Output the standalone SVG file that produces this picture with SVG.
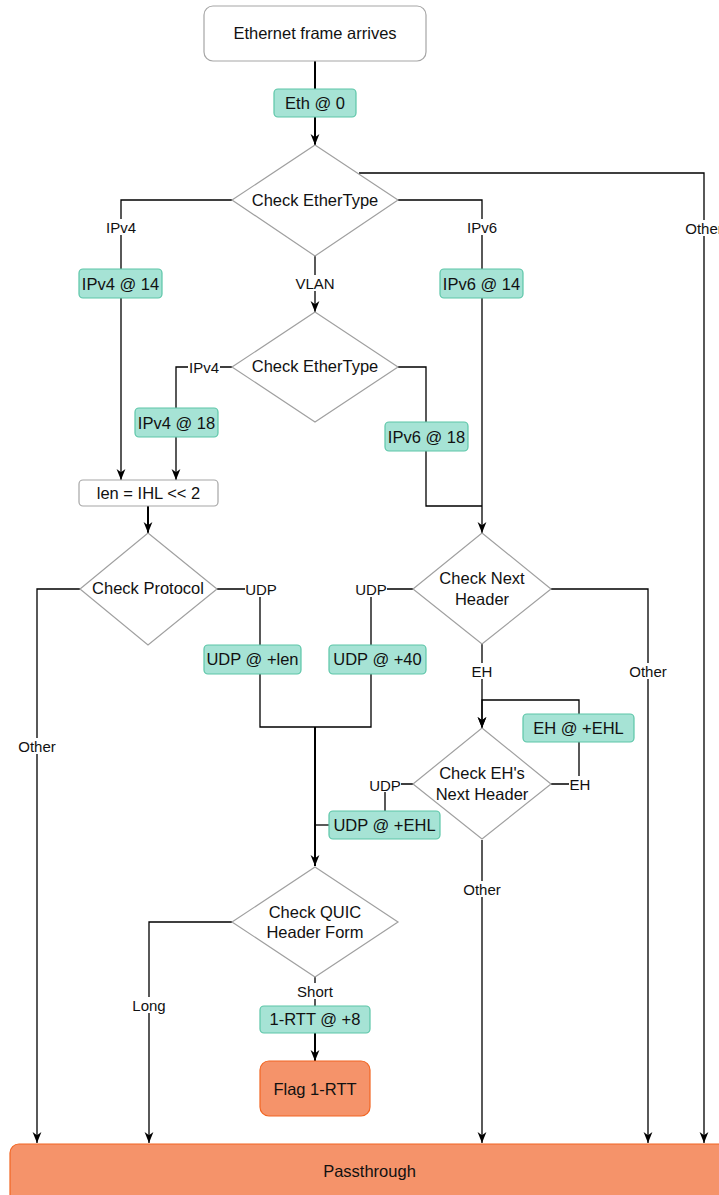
<svg xmlns="http://www.w3.org/2000/svg" width="719" height="1195" viewBox="0 0 719 1195">
  <defs>
    <marker id="arrow" viewBox="0 0 10 10" refX="10" refY="5" markerWidth="11" markerHeight="11" markerUnits="userSpaceOnUse" orient="auto">
      <path d="M0,1 L10,5 L0,9 L3,5 Z" fill="#000"/>
    </marker>
    <style>
      text { font-family: "Liberation Sans", Arial, sans-serif; fill: #111; text-anchor: middle; dominant-baseline: central; }
      .node { font-size: 16.5px; }
      .lbl { font-size: 15px; }
      .plain { fill: #fff; stroke: #a6a6a6; stroke-width: 1.2; }
      .decision { fill: #fff; stroke: #a0a0a0; stroke-width: 1.2; }
      .offset { fill: #a6e3d5; stroke: #5cc6a8; stroke-width: 1.2; }
      .terminal { fill: #f5936a; stroke: #f26522; stroke-width: 1.2; }
      .edge { fill: none; stroke: #000; stroke-width: 1.3; }
      .edge.main { stroke-width: 2; }
      .arr { marker-end: url(#arrow); }
      .lbg { fill: #fff; }
    </style>
  </defs>

  <!-- connectors -->
  <g id="connectors">
    <path class="edge main" d="M315,61 V89"/>
    <path class="edge main arr" d="M315,117 V145"/>
    <path class="edge arr" d="M359,173 H704 V1143"/>
    <path class="edge" d="M232,200 H121 V269"/>
    <path class="edge arr" d="M121,298 V480"/>
    <path class="edge" d="M398,200 H482 V269"/>
    <path class="edge arr" d="M482,298 V533"/>
    <path class="edge arr" d="M315,256 V312"/>
    <path class="edge" d="M232,367 H176 V408"/>
    <path class="edge arr" d="M176,437 V480"/>
    <path class="edge" d="M398,367 H426 V422"/>
    <path class="edge" d="M426,451 V506 H482"/>
    <path class="edge main arr" d="M148,506 V533"/>
    <path class="edge arr" d="M80,589 H37 V1143"/>
    <path class="edge" d="M217,589 H260 V645"/>
    <path class="edge" d="M260,674 V727 H315"/>
    <path class="edge" d="M413,589 H371 V645"/>
    <path class="edge" d="M371,674 V727 H315"/>
    <path class="edge main arr" d="M315,727 V866"/>
    <path class="edge arr" d="M551,589 H648 V1143"/>
    <path class="edge arr" d="M482,644 V728"/>
    <path class="edge" d="M551,784 H579 V742"/>
    <path class="edge arr" d="M579,714 V700 H482 V728"/>
    <path class="edge" d="M413,784 H385 V811"/>
    <path class="edge" d="M329,825 H315"/>
    <path class="edge arr" d="M482,840 V1143"/>
    <path class="edge arr" d="M232,922 H149 V1143"/>
    <path class="edge" d="M315,977 V1006"/>
    <path class="edge main arr" d="M315,1033 V1061"/>

    <!-- edge labels -->
    <g id="edge-labels">
      <rect class="lbg" x="105" y="219" width="32" height="16"/><text class="lbl" x="121" y="227">IPv4</text>
      <rect class="lbg" x="466" y="219" width="32" height="16"/><text class="lbl" x="482" y="227">IPv6</text>
      <rect class="lbg" x="684" y="220" width="40" height="16"/><text class="lbl" x="704" y="228">Other</text>
      <rect class="lbg" x="296" y="275" width="38" height="16"/><text class="lbl" x="315" y="283">VLAN</text>
      <rect class="lbg" x="188" y="359" width="32" height="16"/><text class="lbl" x="204" y="367">IPv4</text>
      <rect class="lbg" x="245" y="581" width="32" height="16"/><text class="lbl" x="261" y="589">UDP</text>
      <rect class="lbg" x="355" y="581" width="32" height="16"/><text class="lbl" x="371" y="589">UDP</text>
      <rect class="lbg" x="18" y="738" width="39" height="16"/><text class="lbl" x="37" y="746">Other</text>
      <rect class="lbg" x="629" y="663" width="39" height="16"/><text class="lbl" x="648" y="671">Other</text>
      <rect class="lbg" x="471" y="663" width="22" height="16"/><text class="lbl" x="482" y="671">EH</text>
      <rect class="lbg" x="569" y="776" width="22" height="16"/><text class="lbl" x="580" y="784">EH</text>
      <rect class="lbg" x="369" y="776" width="32" height="16"/><text class="lbl" x="385" y="785">UDP</text>
      <rect class="lbg" x="463" y="881" width="39" height="16"/><text class="lbl" x="482" y="889">Other</text>
      <rect class="lbg" x="132" y="997" width="34" height="16"/><text class="lbl" x="149" y="1005">Long</text>
      <rect class="lbg" x="297" y="983" width="36" height="16"/><text class="lbl" x="315" y="991">Short</text>
    </g>
  </g>

  <!-- nodes -->
  <g id="start">
    <rect class="plain" x="204" y="6" width="222" height="55" rx="9"/>
    <text class="node" x="315" y="33">Ethernet frame arrives</text>
  </g>
  <g id="eth-0">
    <rect class="offset" x="274" y="89" width="82" height="28" rx="4"/>
    <text class="node" x="315" y="103">Eth @ 0</text>
  </g>
  <g id="check-ethertype">
    <polygon class="decision" points="315,145 398,200 315,256 232,200"/>
    <text class="node" x="315" y="200">Check EtherType</text>
  </g>
  <g id="ipv4-14">
    <rect class="offset" x="79" y="269" width="83" height="29" rx="4"/>
    <text class="node" x="120.5" y="284">IPv4 @ 14</text>
  </g>
  <g id="ipv6-14">
    <rect class="offset" x="440" y="269" width="83" height="29" rx="4"/>
    <text class="node" x="481.5" y="284">IPv6 @ 14</text>
  </g>
  <g id="check-ethertype-vlan">
    <polygon class="decision" points="315,312 398,367 315,422 232,367"/>
    <text class="node" x="315" y="366">Check EtherType</text>
  </g>
  <g id="ipv4-18">
    <rect class="offset" x="135" y="408" width="83" height="29" rx="4"/>
    <text class="node" x="176.5" y="423">IPv4 @ 18</text>
  </g>
  <g id="ipv6-18">
    <rect class="offset" x="385" y="422" width="83" height="29" rx="4"/>
    <text class="node" x="426.5" y="437">IPv6 @ 18</text>
  </g>
  <g id="ihl-len">
    <rect class="plain" x="79" y="480" width="139" height="26" rx="4"/>
    <text class="node" x="148.5" y="493">len = IHL &lt;&lt; 2</text>
  </g>
  <g id="check-protocol">
    <polygon class="decision" points="148,533 217,589 148,645 80,589"/>
    <text class="node" x="148" y="588">Check Protocol</text>
  </g>
  <g id="udp-len">
    <rect class="offset" x="204" y="645" width="97" height="29" rx="4"/>
    <text class="node" x="252.5" y="659">UDP @ +len</text>
  </g>
  <g id="check-next-header">
    <polygon class="decision" points="482,533 551,589 482,644 413,589"/>
    <text class="node" x="482" y="578">Check Next</text>
    <text class="node" x="482" y="599">Header</text>
  </g>
  <g id="udp-40">
    <rect class="offset" x="329" y="645" width="97" height="29" rx="4"/>
    <text class="node" x="377.5" y="659">UDP @ +40</text>
  </g>
  <g id="eh-ehl">
    <rect class="offset" x="523" y="714" width="111" height="28" rx="4"/>
    <text class="node" x="578.5" y="728">EH @ +EHL</text>
  </g>
  <g id="check-eh-next-header">
    <polygon class="decision" points="482,728 551,784 482,839 413,784"/>
    <text class="node" x="482" y="773">Check EH's</text>
    <text class="node" x="482" y="794">Next Header</text>
  </g>
  <g id="udp-ehl">
    <rect class="offset" x="329" y="811" width="111" height="28" rx="4"/>
    <text class="node" x="384.5" y="825">UDP @ +EHL</text>
  </g>
  <g id="check-quic-header-form">
    <polygon class="decision" points="315,867 398,922 315,977 232,922"/>
    <text class="node" x="315" y="912">Check QUIC</text>
    <text class="node" x="315" y="932">Header Form</text>
  </g>
  <g id="one-rtt-8">
    <rect class="offset" x="260" y="1006" width="110" height="27" rx="4"/>
    <text class="node" x="315" y="1019">1-RTT @ +8</text>
  </g>
  <g id="flag-1rtt">
    <rect class="terminal" x="260" y="1061" width="110" height="55" rx="9"/>
    <text class="node" x="315" y="1089">Flag 1-RTT</text>
  </g>
  <g id="passthrough">
    <rect class="terminal" x="10" y="1144" width="720" height="62" rx="9"/>
    <text class="node" x="369.5" y="1171">Passthrough</text>
  </g>
</svg>
